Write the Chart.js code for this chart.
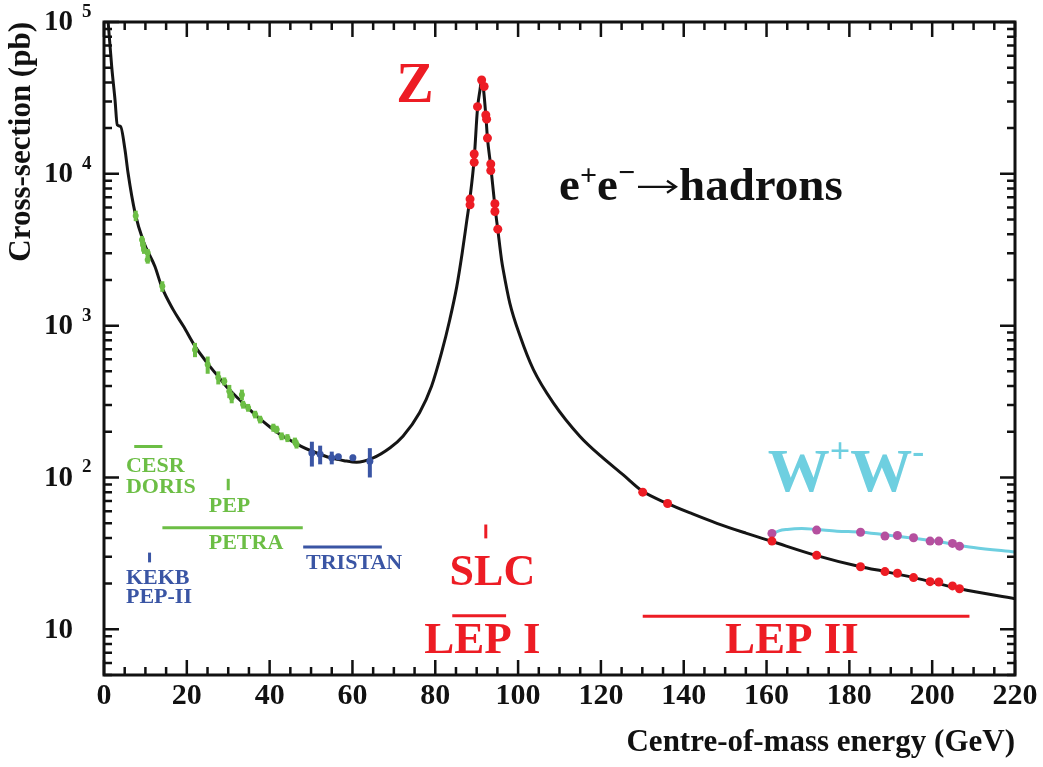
<!DOCTYPE html>
<html>
<head>
<meta charset="utf-8">
<script src="https://cdn.jsdelivr.net/npm/chart.js@4.4.1/dist/chart.umd.min.js"></script>
<style>
  html, body { margin: 0; padding: 0; background: #fff; }
  #wrap { width: 1043px; height: 767px; }
</style>
</head>
<body>
<div id="wrap"><canvas id="xsec"></canvas></div>
<script>
// e+e- -> hadrons cross-section (GeV, pb)
const curveE = [1.0, 1.86, 2.66, 3.2, 4.0, 5.07, 5.8, 7.5, 9.5, 12.3, 13.9, 16.7, 19.2, 22, 25, 27.5, 30, 32.5, 35, 37.5, 40, 42.5, 45, 47.5, 50, 55, 58, 61, 64.6, 69.1, 72.2, 76.2, 79.1, 81.5, 83.5, 85.2, 86.5, 87.6, 88.4, 89.4, 90.2, 90.8, 91.2, 91.5, 92.2, 92.6, 93.4, 94.4, 95.1, 96.0, 96.4, 98.0, 100.5, 103.7, 108.5, 114.9, 120, 125.4, 130.1, 136.0, 142, 148, 155, 161.2, 171.9, 182.7, 189, 195.6, 206.7, 220];
const curveS = [100000, 50800, 30700, 21000, 20500, 14400, 10160, 5530, 3600, 2450, 1815, 1275, 990, 730, 565, 465, 385, 330, 283, 245, 216, 192, 176, 161, 150, 134, 129, 126, 133, 157, 187, 267, 399, 661, 1094, 1814, 3007, 4900, 7000, 12600, 27000, 35700, 41500, 39100, 24400, 17200, 11200, 6100, 4290, 2720, 2335, 1409, 851, 513, 310, 187, 138, 104, 81, 67.5, 57.7, 49.9, 43.0, 38.0, 30.7, 25.8, 23.9, 21.9, 18.5, 15.9];

// W+W- production
const wwCurveE = [161.2, 163, 165, 168.5, 172, 177, 183, 190, 200, 210, 220];
const wwCurveS = [42.0, 44.5, 45.5, 46.1, 45.5, 44.3, 43.6, 41.5, 38.3, 34.6, 32.3];

// LEP I scan around the Z
const lep1E = [88.4, 88.4, 89.4, 89.4, 90.2, 91.2, 91.8, 92.2, 92.4, 92.6, 93.4, 93.4, 94.4, 94.4, 95.1];
const lep1S = [6820, 6250, 13500, 11900, 27700, 41500, 37600, 24400, 22900, 17200, 11600, 10500, 6350, 5650, 4320];

// LEP II hadrons and W pairs
const lep2E = [130.1, 136.1, 161.3, 172.1, 182.7, 188.6, 191.6, 195.5, 199.5, 201.6, 204.9, 206.6];
const lep2S = [80.0, 67.4, 38.1, 30.7, 25.8, 24.0, 23.4, 21.9, 20.6, 20.5, 19.3, 18.5];
const wwE = [161.3, 172.1, 182.7, 188.6, 191.6, 195.5, 199.5, 201.6, 204.9, 206.6];
const wwS = [42.8, 45.0, 43.6, 41.1, 41.5, 40.1, 38.1, 38.1, 36.8, 35.3];

// low-energy data (CESR, DORIS, PEP, PETRA)
const lowE = [7.66, 9.18, 9.42, 9.66, 10.55, 10.55, 14.08, 21.98, 25.04, 27.6, 29.05, 30.26, 30.84, 33.3, 33.6, 34.8, 36.5, 37.7, 40.9, 41.7, 42.9, 44.3, 46.1, 46.5];
const lowS = [5300, 3680, 3410, 3160, 3020, 2720, 1815, 695, 554, 455, 430, 370, 336, 351, 302, 288, 260, 241, 213, 207, 187, 182, 173, 165];
const lowErr = [420, 220, 200, 190, 180, 160, 145, 75, 72, 45, 26, 37, 28, 28, 18, 17, 15, 14, 13, 12, 11, 11, 10, 10];

// TRISTAN
const tristanE = [50.2, 52.2, 55.0, 56.6, 60.1, 64.2];
const tristanS = [145, 142, 135, 137, 135, 128];
const tristanErr = [27, 20, 13, 6, 6, 28];

// machine energy ranges (GeV)
const cesrDorisRange = [7.3, 14.1];
const petraRange = [14.1, 48.0];
const tristanRange = [48.1, 67.1];
const lep1Range = [84.1, 97.1];
const lep2Range = [130.1, 209.0];
const pepEnergy = 30.0;
const kekbEnergy = 11.0;
const slcEnergy = 92.2;

const yDecades = [1, 2, 3, 4, 5];

const SERIF = '"Liberation Serif", "DejaVu Serif", serif';
const RED = '#ed1c24', GREEN = '#6cbe45', BLUE = '#3a55a4', CYAN = '#6ecfe0', PURPLE = '#b5509f';

const pts = (xs, ys) => xs.map((x, i) => ({ x, y: ys[i] }));

function markers(xs, ys, color, r, extra) {
  return Object.assign({
    data: pts(xs, ys), showLine: false, pointRadius: r, pointHoverRadius: r,
    backgroundColor: color, borderWidth: 0, order: 0
  }, extra || {});
}
function segment(a, b, color) {
  return { data: [a, b], borderColor: color, borderWidth: 3, pointRadius: 0, tension: 0, order: 2 };
}

const decorations = {
  id: 'decorations',
  afterDatasetDraw(chart, args) {
    const ds = chart.data.datasets[args.index];
    if (!ds.errors) return;
    const ctx = chart.ctx, ys = chart.scales.y;
    ctx.save();
    ctx.strokeStyle = ds.backgroundColor;
    ctx.lineWidth = 4;
    args.meta.data.forEach((p, i) => {
      const v = ds.data[i].y, e = ds.errors[i];
      ctx.beginPath();
      ctx.moveTo(p.x, ys.getPixelForValue(v - e));
      ctx.lineTo(p.x, ys.getPixelForValue(v + e));
      ctx.stroke();
    });
    ctx.restore();
  },
  afterDraw(chart) {
    const ctx = chart.ctx, xs = chart.scales.x, ys = chart.scales.y;
    const { left, right, top, bottom } = chart.chartArea;
    ctx.save();
    ctx.strokeStyle = '#111';
    ctx.lineWidth = 2.5;
    // inward ticks on all four sides
    ctx.beginPath();
    for (let e = 0; e <= 220; e += 5) {
      const px = xs.getPixelForValue(e), len = e % 20 === 0 ? 15 : 8;
      ctx.moveTo(px, bottom); ctx.lineTo(px, bottom - len);
      ctx.moveTo(px, top); ctx.lineTo(px, top + len);
    }
    for (let k = 0; k <= 5; k++) {
      for (let m = 1; m <= 9; m++) {
        const v = m * Math.pow(10, k);
        if (v < ys.min || v > ys.max) continue;
        const py = ys.getPixelForValue(v), len = m === 1 ? 15 : 8;
        ctx.moveTo(left, py); ctx.lineTo(left + len, py);
        ctx.moveTo(right, py); ctx.lineTo(right - len, py);
      }
    }
    ctx.stroke();
    ctx.lineWidth = 3;
    ctx.strokeRect(left, top, right - left, bottom - top);

    // y tick labels 10^n
    ctx.fillStyle = '#111';
    yDecades.forEach(k => {
      const py = ys.getPixelForValue(Math.pow(10, k));
      ctx.font = 'bold 29px ' + SERIF;
      ctx.textAlign = 'right';
      ctx.textBaseline = 'middle';
      ctx.fillText('10', left - 31, py + 1);
      if (k > 1) {
        ctx.font = 'bold 19px ' + SERIF;
        ctx.textAlign = 'left';
        ctx.fillText(String(k), left - 22, py - 10);
      }
    });

    const text = (str, e, s, size, color, align) => {
      ctx.font = 'bold ' + size + 'px ' + SERIF;
      ctx.fillStyle = color;
      ctx.textAlign = align;
      ctx.textBaseline = 'alphabetic';
      ctx.fillText(str, xs.getPixelForValue(e), ys.getPixelForValue(s));
    };
    // text runs with raised parts; '>' draws a long arrow
    const runs = (parts, e, s, color) => {
      let px = xs.getPixelForValue(e);
      const base = ys.getPixelForValue(s);
      ctx.fillStyle = color;
      ctx.strokeStyle = color;
      ctx.textAlign = 'left';
      ctx.textBaseline = 'alphabetic';
      parts.forEach(([t, size, rise]) => {
        if (t === '>') {
          const ay = base - rise, x0 = px + 3, x1 = px + size - 3;
          ctx.lineWidth = 2.2;
          ctx.beginPath();
          ctx.moveTo(x0, ay); ctx.lineTo(x1, ay);
          ctx.moveTo(x1 - 9, ay - 6); ctx.lineTo(x1, ay); ctx.lineTo(x1 - 9, ay + 6);
          ctx.stroke();
          px += size;
          return;
        }
        ctx.font = 'bold ' + size + 'px ' + SERIF;
        ctx.fillText(t, px, base - rise);
        px += ctx.measureText(t).width;
      });
    };

    text('CESR', 5.3, 108.7, 22, GREEN, 'left');
    text('DORIS', 5.3, 79, 22, GREEN, 'left');
    text('PEP', 30.3, 59.3, 22, GREEN, 'center');
    text('PETRA', 34.3, 33.7, 22, GREEN, 'center');
    text('TRISTAN', 60.4, 24.9, 22, BLUE, 'center');
    text('KEKB', 5.3, 19.8, 22, BLUE, 'left');
    text('PEP-II', 5.3, 14.8, 22, BLUE, 'left');
    text('SLC', 93.8, 19.5, 44, RED, 'center');
    text('LEP I', 91.4, 6.95, 45, RED, 'center');
    text('LEP II', 166.1, 6.95, 45, RED, 'center');
    text('Z', 75.1, 29900, 56, RED, 'center');
    runs([['e', 47, 0], ['+', 30, 15], ['e', 47, 0], ['\u2212', 30, 18], ['>', 44, 13], ['hadrons', 47, 0]], 109.9, 6745, '#111');
    runs([['W', 62, 0], ['+', 36, 28], ['W', 62, 0], ['-', 36, 28]], 160.3, 81.3, CYAN);
    ctx.restore();
  }
};

new Chart(document.getElementById('xsec'), {
  type: 'line',
  data: {
    datasets: [
      markers(lep1E, lep1S, RED, 4.5),
      markers(lep2E, lep2S, RED, 4.5),
      markers(wwE, wwS, PURPLE, 4.5),
      markers(lowE, lowS, GREEN, 3, { errors: lowErr }),
      markers(tristanE, tristanS, BLUE, 3.5, { errors: tristanErr }),
      segment({ x: cesrDorisRange[0], y: 160 }, { x: cesrDorisRange[1], y: 160 }, GREEN),
      segment({ x: petraRange[0], y: 46.7 }, { x: petraRange[1], y: 46.7 }, GREEN),
      segment({ x: pepEnergy, y: 82.4 }, { x: pepEnergy, y: 98 }, GREEN),
      segment({ x: tristanRange[0], y: 34.8 }, { x: tristanRange[1], y: 34.8 }, BLUE),
      segment({ x: kekbEnergy, y: 27.6 }, { x: kekbEnergy, y: 32 }, BLUE),
      segment({ x: slcEnergy, y: 39.7 }, { x: slcEnergy, y: 49 }, RED),
      segment({ x: lep1Range[0], y: 12.3 }, { x: lep1Range[1], y: 12.3 }, RED),
      segment({ x: lep2Range[0], y: 12.2 }, { x: lep2Range[1], y: 12.2 }, RED),
      { data: pts(wwCurveE, wwCurveS), borderColor: CYAN, borderWidth: 3, pointRadius: 0,
        cubicInterpolationMode: 'monotone', order: 5 },
      { data: pts(curveE, curveS), borderColor: '#151515', borderWidth: 3, pointRadius: 0,
        cubicInterpolationMode: 'monotone', order: 6 }
    ]
  },
  options: {
    responsive: true,
    maintainAspectRatio: false,
    animation: false,
    layout: { padding: { left: 0, right: 28, top: 22, bottom: 0 } },
    plugins: { legend: { display: false }, tooltip: { enabled: false } },
    scales: {
      x: {
        type: 'linear', min: 0, max: 220,
        grid: { display: false, drawTicks: false },
        border: { display: false },
        ticks: { stepSize: 20, autoSkip: false, maxRotation: 0, padding: 3, color: '#111',
                 font: { family: SERIF, size: 30, weight: 'bold' } },
        title: { display: true, text: 'Centre-of-mass energy (GeV)', align: 'end', color: '#111',
                 font: { family: SERIF, size: 31, weight: 'bold' }, padding: { top: 0, bottom: 5 } },
        afterFit: s => { s.height = 92; }
      },
      y: {
        type: 'logarithmic', min: 5, max: 100000,
        grid: { display: false, drawTicks: false },
        border: { display: false },
        ticks: { display: false },
        title: { display: true, text: 'Cross-section (pb)', align: 'end', color: '#111',
                 font: { family: SERIF, size: 31, weight: 'bold' }, padding: { top: 3, bottom: 0 } },
        afterFit: s => { s.width = 104; }
      }
    }
  },
  plugins: [decorations]
});
</script>
</body>
</html>
